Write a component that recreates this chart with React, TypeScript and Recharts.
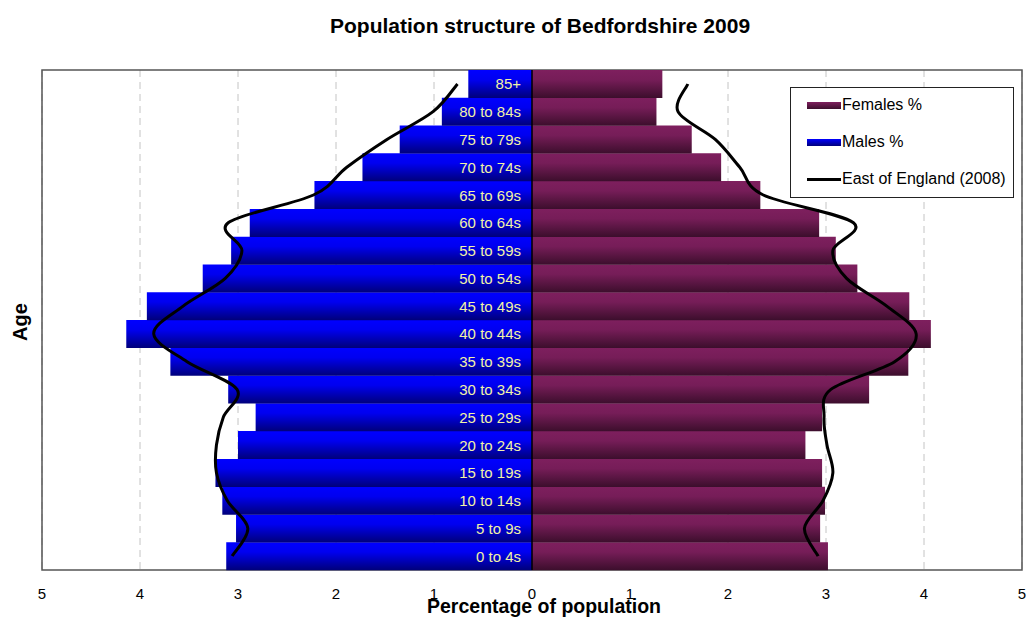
import React from 'react'
import {
  ComposedChart,
  Bar,
  Line,
  XAxis,
  YAxis,
  CartesianGrid,
  ReferenceLine,
  ReferenceArea,
  LabelList,
} from 'recharts'

const ages = [
  '0 to 4s', '5 to 9s', '10 to 14s', '15 to 19s', '20 to 24s', '25 to 29s',
  '30 to 34s', '35 to 39s', '40 to 44s', '45 to 49s', '50 to 54s', '55 to 59s',
  '60 to 64s', '65 to 69s', '70 to 74s', '75 to 79s', '80 to 84s', '85+',
]
const males = [3.12, 3.02, 3.16, 3.23, 3.0, 2.82, 3.1, 3.69, 4.14, 3.93, 3.36, 3.07, 2.88, 2.22, 1.73, 1.35, 0.92, 0.65]
const females = [3.02, 2.94, 2.99, 2.96, 2.79, 2.96, 3.44, 3.84, 4.07, 3.85, 3.32, 3.1, 2.93, 2.33, 1.93, 1.63, 1.27, 1.33]
const eastMales = [3.06, 2.9, 3.11, 3.22, 3.22, 3.15, 3.01, 3.52, 3.86, 3.56, 3.13, 2.96, 3.1, 2.23, 1.89, 1.48, 1.01, 0.76]
const eastFemales = [2.92, 2.78, 2.97, 3.07, 3.01, 2.98, 3.05, 3.7, 3.92, 3.62, 3.21, 3.07, 3.28, 2.36, 2.12, 1.87, 1.49, 1.59]
const xTicks = [-5, -4, -3, -2, -1, 0, 1, 2, 3, 4, 5]

const data = ages.map((age, i) => ({
  age,
  males: -males[i],
  females: females[i],
  eastM: -eastMales[i],
  eastF: eastFemales[i],
}))

const FONT = '"Liberation Sans", Arial, sans-serif'

// Excel-style smoothed line (Catmull-Rom through the points)
const smoothCurve: any = (ctx: any) => {
  let pts: number[][] = []
  return {
    areaStart() {},
    areaEnd() {},
    lineStart() { pts = [] },
    point(x: number, y: number) { pts.push([+x, +y]) },
    lineEnd() {
      if (!pts.length) return
      ctx.moveTo(pts[0][0], pts[0][1])
      for (let i = 0; i < pts.length - 1; i++) {
        const p0 = pts[Math.max(i - 1, 0)]
        const p1 = pts[i]
        const p2 = pts[i + 1]
        const p3 = pts[Math.min(i + 2, pts.length - 1)]
        ctx.bezierCurveTo(
          p1[0] + (p2[0] - p0[0]) / 6, p1[1] + (p2[1] - p0[1]) / 6,
          p2[0] - (p3[0] - p1[0]) / 6, p2[1] - (p3[1] - p1[1]) / 6,
          p2[0], p2[1],
        )
      }
    },
  }
}

const renderAge = (p: any) => (
  <text
    x={p.x - 11}
    y={p.y + p.height / 2}
    dy="0.36em"
    textAnchor="end"
    fill="#f2f2a6"
    fontSize={15}
    fontFamily={FONT}
  >
    {p.value}
  </text>
)

export default function App() {
  return (
    <div style={{ position: 'absolute', left: 0, top: 0, width: 1028, height: 617, background: '#fff', fontFamily: FONT }}>
      <ComposedChart
        width={1028}
        height={617}
        data={data}
        layout="vertical"
        stackOffset="sign"
        barCategoryGap={0}
        margin={{ top: 70, right: 6, bottom: 17, left: 42 }}
      >
        <defs>
          <linearGradient id="gm" x1="0" y1="0" x2="0" y2="1">
            <stop offset="0%" stopColor="#0000ff" />
            <stop offset="35%" stopColor="#0000f0" />
            <stop offset="100%" stopColor="#00007a" />
          </linearGradient>
          <linearGradient id="gf" x1="0" y1="0" x2="0" y2="1">
            <stop offset="0%" stopColor="#7e1f5e" />
            <stop offset="35%" stopColor="#761d58" />
            <stop offset="100%" stopColor="#3c0e2c" />
          </linearGradient>
        </defs>
        <CartesianGrid horizontal={false} stroke="#c4c4c4" strokeDasharray="7 5" />
        <XAxis
          type="number"
          domain={[-5, 5]}
          ticks={xTicks}
          interval={0}
          tickFormatter={(v: number) => String(Math.abs(v))}
          axisLine={false}
          tickLine={false}
          tickMargin={12}
          height={30}
          tick={{ fill: '#000', fontSize: 15, fontFamily: FONT }}
        />
        <YAxis type="category" dataKey="age" reversed hide />
        <Bar dataKey="males" stackId="a" fill="url(#gm)" isAnimationActive={false} />
        <Bar dataKey="females" stackId="a" fill="url(#gf)" isAnimationActive={false}>
          <LabelList dataKey="age" content={renderAge} />
        </Bar>
        <ReferenceLine x={0} stroke="#000" strokeWidth={1.5} />
        <Line dataKey="eastM" type={smoothCurve} stroke="#000" strokeWidth={3} dot={false} activeDot={false} isAnimationActive={false} />
        <Line dataKey="eastF" type={smoothCurve} stroke="#000" strokeWidth={3} dot={false} activeDot={false} isAnimationActive={false} />
        <ReferenceArea x1={-5} x2={5} fill="none" stroke="#555" strokeWidth={1.5} />
      </ComposedChart>

      <div style={{ position: 'absolute', left: 330, top: 14, whiteSpace: 'nowrap', fontWeight: 'bold', fontSize: 21 }}>
        Population structure of Bedfordshire 2009
      </div>
      <div style={{ position: 'absolute', left: 427, top: 595, whiteSpace: 'nowrap', fontWeight: 'bold', fontSize: 19.5, lineHeight: '22px' }}>
        Percentage of population
      </div>
      <div
        style={{
          position: 'absolute',
          left: 20,
          top: 322,
          transform: 'translate(-50%, -50%) rotate(-90deg)',
          fontWeight: 'bold',
          fontSize: 20,
        }}
      >
        Age
      </div>

      <div
        style={{
          position: 'absolute',
          left: 790,
          top: 87,
          width: 222,
          height: 109,
          border: '1px solid #222',
          background: '#fff',
          fontSize: 16,
        }}
      >
        {[
          { label: 'Females %', fill: 'linear-gradient(#7e1f5e, #3c0e2c)', h: 7 },
          { label: 'Males %', fill: 'linear-gradient(#0000ff, #00007a)', h: 7 },
          { label: 'East of England (2008)', fill: '#000', h: 3 },
        ].map((it, i) => (
          <div key={it.label} style={{ position: 'absolute', left: 16, top: 7 + i * 37, height: 20, display: 'flex', alignItems: 'center' }}>
            <div style={{ width: 34, height: it.h, background: it.fill }} />
            <span style={{ marginLeft: 1 }}>{it.label}</span>
          </div>
        ))}
      </div>
    </div>
  )
}
